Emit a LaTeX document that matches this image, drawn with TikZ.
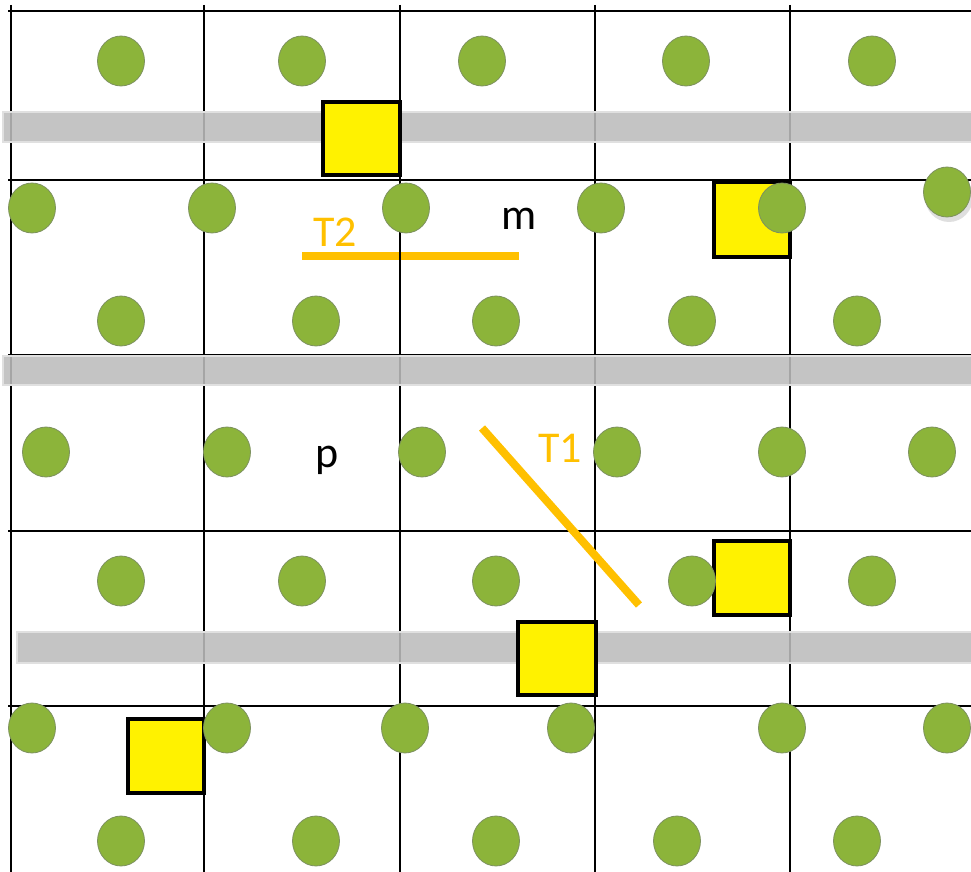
\documentclass[tikz,border=0pt]{standalone}
\usepackage{fontspec}
\setmainfont{Carlito}
\usepackage{tikz}
\definecolor{ballgreen}{RGB}{140,180,58}
\definecolor{balledge}{RGB}{125,145,95}
\definecolor{tcol}{RGB}{255,192,0}
\definecolor{bandgray}{RGB}{188,188,188}

\begin{document}
\begin{tikzpicture}[x=.5pt,y=-.5pt,
    grid/.style={line width=1.25pt},
    band/.style={fill=bandgray,fill opacity=.88,draw=black!12,line width=.6pt},
    site/.style={draw,line width=2pt,fill=yellow},
    ball/.style={fill=ballgreen,draw=balledge,line width=.4pt},
    tline/.style={tcol,line width=4pt},
    lab/.style={inner sep=0,anchor=base west,font=\fontsize{22}{26}\selectfont}]
        \useasboundingbox (0,0) rectangle (971,872);
        \coordinate (t2a) at (302,256);
        \coordinate (t2b) at (519,256);
        \draw[tline] (t2a) -- (t2b);
        % grid
        \foreach \gx in {11,204,400,595,790} \draw[grid] (\gx,5) -- (\gx,872);
        \foreach \gy in {11,180,355,531,706} \draw[grid] (8,\gy) -- (971,\gy);
        \filldraw[band] (3,112) rectangle (975,142);
        \filldraw[band] (3,356) rectangle (975,385);
        \filldraw[band] (17,632) rectangle (975,663);
        \filldraw[site] (323,102) rectangle (400,175);
        \filldraw[site] (714,182) rectangle (790,257);
        \filldraw[site] (714,541) rectangle (790,615);
        \filldraw[site] (518,622) rectangle (596,695);
        \filldraw[site] (128,719) rectangle (204,793);
        \coordinate (t1a) at (482,428);
        \coordinate (t1b) at (639,605);
        \draw[tline] (t1a) -- (t1b);
        \fill[black!25,opacity=.5] (949,197) ellipse [x radius=24, y radius=25];
        \foreach \cx/\cy in {121/61,302/61,482/61,686/61,872/61,
                32/208,212/208,406/208,601/208,782/208,947/192,
                121/321,316/321,496/321,692/321,857/321,
                46/452,227/452,422/452,617/452,782/452,932/452,
                121/581,302/581,496/581,692/581,872/581,
                32/728,227/728,405/728,571/728,782/728,947/728,
                121/841,316/841,496/841,677/841,857/841}
            \filldraw[ball] (\cx,\cy) ellipse [x radius=23.5, y radius=25];
        \node[lab] (mlab) at (501,230) {m};
        \node[lab] (plab) at (315,467) {p};
        \node[lab,text=tcol] (t2lab) at (313,247) {T2};
        \node[lab,text=tcol] (t1lab) at (538,462) {T1};
\end{tikzpicture}
\end{document}
